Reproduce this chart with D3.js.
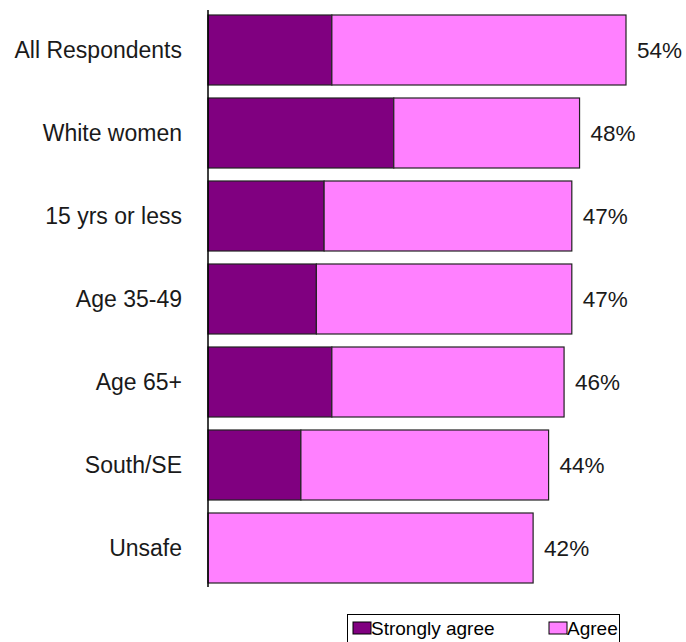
<!DOCTYPE html>
<html>
<head>
<meta charset="utf-8">
<script src="https://cdn.jsdelivr.net/npm/d3@7/dist/d3.min.js"></script>
<style>
  html, body { margin: 0; padding: 0; background: #fff; }
  svg { display: block; font-family: "Liberation Sans", Arial, sans-serif; }
</style>
</head>
<body>
<svg id="chart" width="686" height="642"></svg>
<script>
// Groups shown on the vertical axis, top to bottom
const categories = ["All Respondents", "White women", "15 yrs or less", "Age 35-49", "Age 65+", "South/SE", "Unsafe"];
// Share of respondents (%) per response
const stronglyAgree = [16, 24, 15, 14, 16, 12, 0];
const agree = [38, 24, 32, 33, 30, 32, 42];
// Combined totals printed at the end of each bar
const totals = [54, 48, 47, 47, 46, 44, 42];

const seriesNames = ["Strongly agree", "Agree"];
const colors = ["#800080", "#ff80ff"];

const svg = d3.select("#chart");

const y = d3.scaleBand()
  .domain(categories)
  .range([8.5, 589.5])
  .paddingInner(13 / 83)
  .paddingOuter(6.5 / 83);

const x = d3.scaleLinear()
  .domain([0, 54])
  .range([208, 626]);

const rows = categories.map((c, i) => ({
  category: c,
  strong: stronglyAgree[i],
  agree: agree[i],
  total: totals[i]
}));

// Stacked segments
const stack = d3.stack().keys(["strong", "agree"]);
const layers = stack(rows);

svg.append("g")
  .selectAll("g")
  .data(layers)
  .join("g")
  .attr("fill", (d, i) => colors[i])
  .selectAll("rect")
  .data(d => d.filter(s => s[1] - s[0] > 0))
  .join("rect")
  .attr("x", d => x(d[0]))
  .attr("y", d => y(d.data.category))
  .attr("width", d => x(d[1]) - x(d[0]))
  .attr("height", y.bandwidth())
  .attr("stroke", "#222")
  .attr("stroke-width", 1.2);

// Vertical category axis line
svg.append("line")
  .attr("x1", x(0)).attr("x2", x(0))
  .attr("y1", 10).attr("y2", 587)
  .attr("stroke", "#000")
  .attr("stroke-width", 1.5);

// Category labels
svg.append("g")
  .selectAll("text")
  .data(rows)
  .join("text")
  .attr("x", 182)
  .attr("y", d => y(d.category) + y.bandwidth() / 2)
  .attr("dy", "0.35em")
  .attr("text-anchor", "end")
  .attr("font-size", 23)
  .attr("fill", "#1a1a1a")
  .text(d => d.category);

// Total value labels
svg.append("g")
  .selectAll("text")
  .data(rows)
  .join("text")
  .attr("x", d => x(d.total) + 11)
  .attr("y", d => y(d.category) + y.bandwidth() / 2)
  .attr("dy", "0.35em")
  .attr("font-size", 22.5)
  .attr("fill", "#1a1a1a")
  .text(d => d.total + "%");

// Legend
const legend = svg.append("g");
legend.append("rect")
  .attr("x", 347.5).attr("y", 614.5)
  .attr("width", 272).attr("height", 40)
  .attr("fill", "#fff")
  .attr("stroke", "#000")
  .attr("stroke-width", 1);

const legendX = [353, 549];
seriesNames.forEach((name, i) => {
  legend.append("rect")
    .attr("x", legendX[i]).attr("y", 622)
    .attr("width", 18).attr("height", 12)
    .attr("fill", colors[i])
    .attr("stroke", "#000")
    .attr("stroke-width", 1);
  legend.append("text")
    .attr("x", legendX[i] + 18)
    .attr("y", 635)
    .attr("font-size", 19)
    .attr("fill", "#000")
    .text(name);
});
</script>
</body>
</html>
